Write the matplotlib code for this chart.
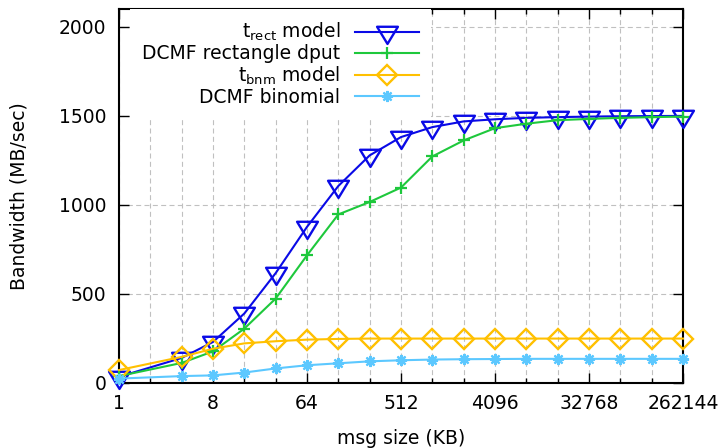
import matplotlib
matplotlib.use("Agg")
import matplotlib.pyplot as plt
from matplotlib.path import Path
from matplotlib.ticker import FixedLocator, FixedFormatter, NullFormatter

# ---- data ----
msg_size = [1, 4, 8, 16, 32, 64, 128, 256, 512, 1024, 2048, 4096,
            8192, 16384, 32768, 65536, 131072, 262144]
t_rect_model = [32, 138, 228, 388, 615, 875, 1105, 1277, 1380, 1436, 1468,
                1480, 1488, 1492, 1495, 1497, 1498, 1499]
dcmf_rect_dput = [36, 110, 175, 303, 472, 715, 945, 1015, 1096, 1271, 1361,
                  1430, 1455, 1475, 1482, 1488, 1492, 1495]
t_bnm_model = [70, 144, 190, 220, 232, 241, 245, 247, 247, 247, 247, 247,
               247, 247, 247, 247, 247, 247]
dcmf_binomial = [22, 36, 40, 56, 79, 97, 108, 119, 125, 129, 131, 132,
                 133, 133, 133, 133, 133, 133]

x_major = [1, 8, 64, 512, 4096, 32768, 262144]
x_major_labels = ["1", "8", "64", "512", "4096", "32768", "262144"]
x_minor = [2, 4, 16, 32, 128, 256, 1024, 2048, 8192, 16384, 65536, 131072]
y_ticks = [0, 500, 1000, 1500, 2000]

labels = [r"$\mathdefault{t_{rect}}$ model", "DCMF rectangle dput",
          r"$\mathdefault{t_{bnm}}$ model", "DCMF binomial"]
colors = ["#0a0ae6", "#1ec83c", "#ffc000", "#5cc8ff"]

plt.rcParams["font.family"] = ["DejaVu Sans"]
plt.rcParams["font.size"] = 13.5
plt.rcParams["mathtext.fontset"] = "dejavusans"

fig = plt.figure(figsize=(7.2, 4.48), dpi=100)
ax = fig.add_axes([119 / 720, 1 - 382.5 / 448, (683 - 119) / 720, (382.5 - 9) / 448])

tri = Path([(-1, 0.55), (1, 0.55), (0, -1.1), (-1, 0.55)],
           [Path.MOVETO, Path.LINETO, Path.LINETO, Path.CLOSEPOLY])

lw = 1.5
ax.plot(msg_size, t_rect_model, color=colors[0], lw=lw, marker=tri, ms=16.5,
        mfc="none", mew=1.7, label=labels[0], clip_on=False)
ax.plot(msg_size, dcmf_rect_dput, color=colors[1], lw=lw, marker="+", ms=8,
        mew=1.6, label=labels[1], clip_on=False)
ax.plot(msg_size, t_bnm_model, color=colors[2], lw=lw, marker="D", ms=10.5,
        mfc="none", mew=1.7, label=labels[2], clip_on=False)
ax.plot(msg_size, dcmf_binomial, color=colors[3], lw=lw, marker=(8, 2, 0), ms=8,
        mew=1.6, label=labels[3], clip_on=False)

ax.set_xscale("log", base=2)
ax.set_xlim(1, 262144)
ax.set_ylim(0, 2100)
ax.xaxis.set_major_locator(FixedLocator(x_major))
ax.xaxis.set_major_formatter(FixedFormatter(x_major_labels))
ax.xaxis.set_minor_locator(FixedLocator(x_minor))
ax.xaxis.set_minor_formatter(NullFormatter())
ax.yaxis.set_major_locator(FixedLocator(y_ticks))
ax.yaxis.set_minor_locator(FixedLocator([]))

grid_kw = dict(color="#c0c0c0", lw=0.8, linestyle=(0, (4.5, 3)))
ax.grid(True, which="both", axis="x", **grid_kw)
ax.grid(True, which="major", axis="y", **grid_kw)
ax.set_axisbelow(True)

for s in ax.spines.values():
    s.set_linewidth(1.5)
    s.set_zorder(1.5)
ax.tick_params(which="both", direction="in", top=True, right=True, width=1)
ax.tick_params(which="major", length=7)
ax.tick_params(which="minor", length=3.5)
ax.tick_params(axis="x", pad=8)
ax.tick_params(axis="y", pad=9)

ax.set_xlabel("msg size (KB)", labelpad=12)
ax.set_ylabel("Bandwidth (MB/sec)", labelpad=22)

leg = ax.legend(loc="upper right", bbox_to_anchor=((431 - 119) / 564, 1.0),
                markerfirst=False, frameon=True, framealpha=1, facecolor="white",
                edgecolor="none", fancybox=False, borderaxespad=0, borderpad=0.65,
                handlelength=3.4, handletextpad=0.8, labelspacing=0.05)

fig.savefig("out.png", dpi=100)
